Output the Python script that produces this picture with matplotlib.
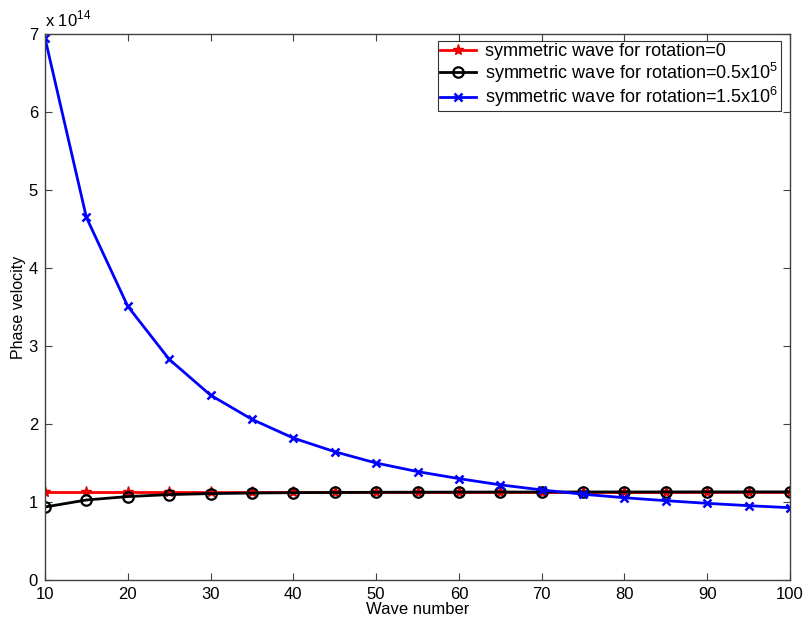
import matplotlib
matplotlib.use("Agg")
import matplotlib.pyplot as plt

# Wave numbers and phase velocities (units of 1e14)
wave_number = [10, 15, 20, 25, 30, 35, 40, 45, 50, 55, 60, 65, 70, 75, 80, 85, 90, 95, 100]
v_rot0 = [1.13, 1.13, 1.13, 1.13, 1.13, 1.13, 1.13, 1.13, 1.13, 1.13, 1.13, 1.13, 1.13,
          1.13, 1.13, 1.13, 1.13, 1.13, 1.13]
v_rot_05e5 = [0.936, 1.026, 1.07, 1.095, 1.108, 1.115, 1.12, 1.122, 1.125, 1.126, 1.127,
              1.128, 1.128, 1.129, 1.129, 1.129, 1.13, 1.13, 1.13]
v_rot_15e6 = [6.95, 4.65, 3.51, 2.83, 2.37, 2.06, 1.82, 1.645, 1.50, 1.39, 1.30, 1.22,
              1.155, 1.10, 1.055, 1.017, 0.983, 0.953, 0.927]

labels = ["symmetric wave for rotation=0",
          "symmetric wave for rotation=0.5x10$^5$",
          "symmetric wave for rotation=1.5x10$^6$"]

plt.rcParams["font.family"] = ["Liberation Sans", "DejaVu Sans"]
plt.rcParams["mathtext.fontset"] = "custom"
plt.rcParams["mathtext.rm"] = "Liberation Sans"

fig = plt.figure(figsize=(8.06, 6.23), dpi=100)
ax = fig.add_axes([0.0558, 0.069, 0.9244, 0.8764])

ax.plot(wave_number, v_rot0, color="#ff0000", lw=2, marker="*", ms=8,
        mec="#dd0000", label=labels[0])
ax.plot(wave_number, v_rot_05e5, color="black", lw=2, marker="o", ms=7.5,
        mfc="none", mew=1.6, label=labels[1])
ax.plot(wave_number, v_rot_15e6, color="#0000ff", lw=2, marker="x", ms=6,
        mew=1.8, label=labels[2])

ax.set_xlim(10, 100)
ax.set_ylim(0, 7)
ax.set_xticks(range(10, 101, 10))
ax.set_yticks(range(0, 8))
ax.tick_params(direction="in", top=True, right=True, labelsize=12, length=5,
               color="#404040", pad=5)
for s in ax.spines.values():
    s.set_color("#404040")
    s.set_linewidth(1)

ax.set_xlabel("Wave number", fontsize=12, labelpad=0)
ax.set_ylabel("Phase velocity", fontsize=11.5, labelpad=2)
ax.text(0.0, 1.008, r"x 10$^{14}$", transform=ax.transAxes, fontsize=12,
        ha="left", va="bottom")

leg = ax.legend(loc="upper right", bbox_to_anchor=(0.9875, 0.987), fontsize=13,
                frameon=True, fancybox=False, edgecolor="black",
                borderpad=0.12, labelspacing=0.02, handlelength=2.0,
                handletextpad=0.5, borderaxespad=0)
leg.get_frame().set_linewidth(0.8)

fig.savefig("out.png", dpi=100)
